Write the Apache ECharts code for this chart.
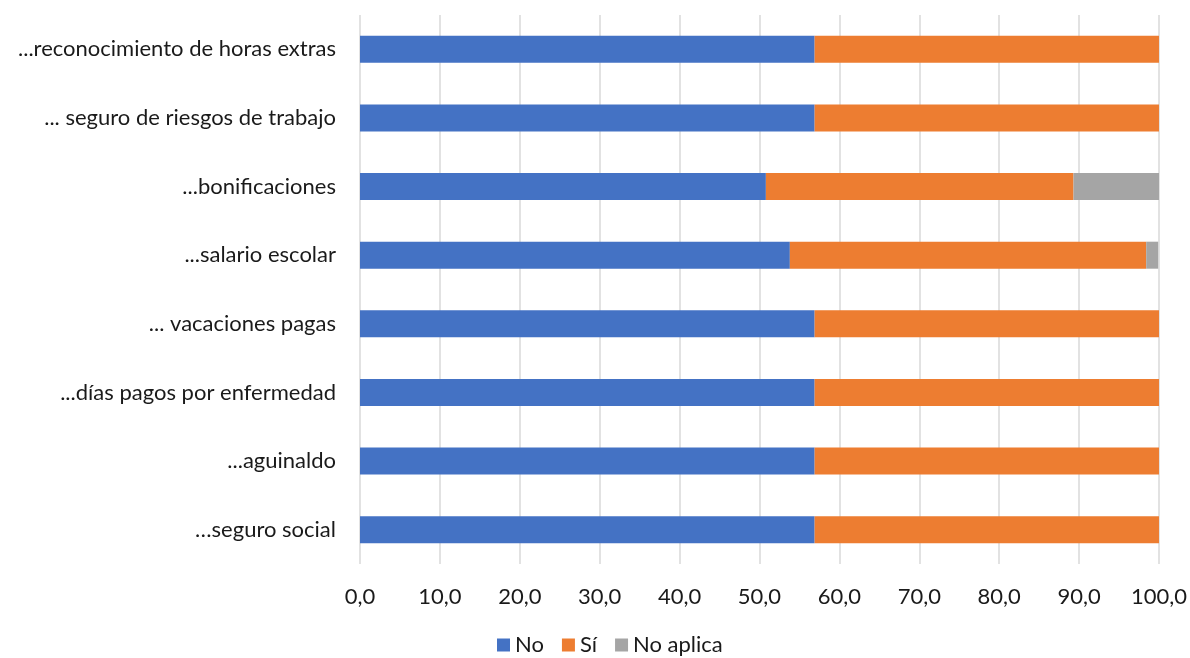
<!DOCTYPE html>
<html>
<head>
<meta charset="utf-8">
<script src="https://cdn.jsdelivr.net/npm/echarts@6/dist/echarts.min.js"></script>
<style>html,body{margin:0;padding:0;background:#fff;}#c{width:1190px;height:658px;}</style>
</head>
<body>
<div id="c"></div>
<script>
var categories = ["…seguro social", "...aguinaldo", "...días pagos por enfermedad", "... vacaciones pagas", "...salario escolar", "...bonificaciones", "... seguro de riesgos de trabajo", "...reconocimiento de horas extras"];
var seriesNames = ["No", "Sí", "No aplica"];
var noValues = [56.9, 56.9, 56.9, 56.9, 53.8, 50.8, 56.9, 56.9];
var siValues = [43.1, 43.1, 43.1, 43.1, 44.6, 38.5, 43.1, 43.1];
var naValues = [0, 0, 0, 0, 1.5, 10.8, 0, 0];
var colors = ["#4472C4", "#ED7D31", "#A5A5A5"];
var FONT = "Lato";
var TXT = "#1a1a1a";

var chart = echarts.init(document.getElementById('c'));
var data = [noValues, siValues, naValues];
chart.setOption({
  animation: false,
  color: colors,
  grid: {left: 360, right: 30, top: 15, bottom: 94, containLabel: false},
  legend: {
    top: 634, left: 497, padding: 0, itemWidth: 13, itemHeight: 13, itemGap: 18,
    icon: 'rect',
    textStyle: {fontFamily: FONT, fontSize: 22, color: TXT, padding: [0,0,0,0]},
    data: seriesNames
  },
  xAxis: {
    type: 'value', min: 0, max: 100, interval: 10,
    axisLine: {show: false}, axisTick: {show: false},
    splitLine: {lineStyle: {color: '#D9D9D9', width: 1.5}},
    axisLabel: {fontFamily: FONT, fontSize: 22, color: TXT, margin: 22,
      formatter: function(v){ return v.toFixed(1).replace('.', ','); }}
  },
  yAxis: {
    type: 'category', data: categories,
    axisLine: {show: false}, axisTick: {show: false},
    axisLabel: {fontFamily: FONT, fontSize: 22, color: TXT, margin: 24}
  },
  series: seriesNames.map(function(n, i){
    return {name: n, type: 'bar', stack: 'total', barWidth: 27, data: data[i]};
  })
});
</script>
</body>
</html>
